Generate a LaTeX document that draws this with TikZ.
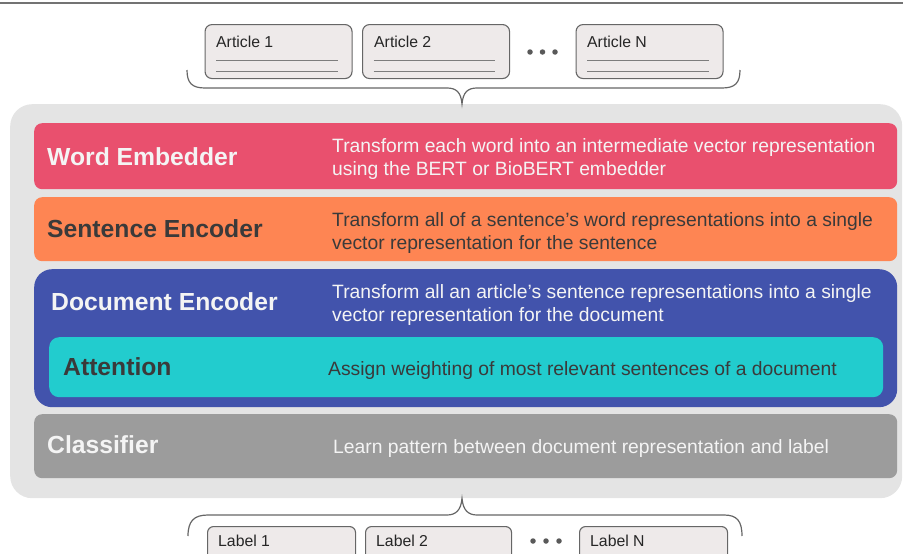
\documentclass[tikz,border=0pt]{standalone}
\usepackage{fontspec}
\setmainfont{Liberation Sans}
\usetikzlibrary{calc}
\definecolor{bgGray}{HTML}{E4E4E4}
\definecolor{wordRed}{HTML}{E9506E}
\definecolor{sentOrange}{HTML}{FE8553}
\definecolor{docBlue}{HTML}{4253AC}
\definecolor{attCyan}{HTML}{22CCCE}
\definecolor{clsGray}{HTML}{9C9C9C}
\definecolor{boxFill}{HTML}{EEEAEA}
\definecolor{boxDraw}{HTML}{666666}
\definecolor{darkText}{HTML}{3A3A3A}
\definecolor{lightText}{HTML}{F4F4F4}
\begin{document}
\begin{tikzpicture}[x=1pt,y=-1pt,
  bar/.style={rectangle, rounded corners=8pt, inner sep=0pt, anchor=north west, draw=none},
  title/.style={font=\fontsize{24.7}{29}\selectfont\bfseries, inner sep=0pt, anchor=base west},
  desc/.style={font=\fontsize{19.3}{22.5}\selectfont, align=left, inner sep=0pt, anchor=base west},
  docbox/.style={rectangle, rounded corners=7pt, fill=boxFill, draw=boxDraw, line width=1.1pt, inner sep=0pt, anchor=north west},
  boxtext/.style={font=\fontsize{15.8}{18}\selectfont, text=black!85, inner sep=0pt, anchor=base west},
  rule/.style={draw=boxDraw!85, line width=0.8pt},
  brace/.style={draw=boxDraw, line width=1.2pt},
  dot/.style={circle, fill=black!65, minimum size=5.5pt, inner sep=0pt}]
\useasboundingbox (0,0) rectangle (903,554);
\clip (0,0) rectangle (903,554);

% top rule
\coordinate (tl) at (0,3);
\coordinate (tr) at (903,3);
\draw[draw=black!55, line width=1.2pt] (tl) -- (tr);

% articles
\node[docbox, minimum width=147pt, minimum height=54pt] (art1) at (204.5,24) {};
\node[docbox, minimum width=147pt, minimum height=54pt] (art2) at (362,24) {};
\node[docbox, minimum width=147pt, minimum height=54pt] (artN) at (575.5,24) {};
\node[boxtext] (art1t) at (216,47) {Article 1};
\node[boxtext] (art2t) at (374,47) {Article 2};
\node[boxtext] (artNt) at (587,47) {Article N};
\foreach \b in {art1,art2,artN}{
  \draw[rule] ($(\b.north west)+(11.5,36)$) -- ($(\b.north east)+(-15,36)$);
  \draw[rule] ($(\b.north west)+(11.5,47)$) -- ($(\b.north east)+(-15,47)$);
}
\node[dot] (ad1) at (530,52) {};
\node[dot] (ad2) at (542.5,52) {};
\node[dot] (ad3) at (555,52) {};

% big background
\node[rectangle, rounded corners=22pt, fill=bgGray, minimum width=892pt, minimum height=394pt, inner sep=0pt, anchor=north west] (bg) at (10,104) {};

% top brace
\draw[brace] (187,70) .. controls (187,83) and (192,88) .. (205,88) -- (447,88)
  .. controls (456,88) and (461,92) .. (bg.north -| 462,0)
  .. controls (463,92) and (468,88) .. (477,88) -- (722,88)
  .. controls (735,88) and (740,83) .. (740,70);

% bars
\node[bar, fill=wordRed, minimum width=863pt, minimum height=66pt] (word) at (34,123) {};
\node[bar, fill=sentOrange, minimum width=863pt, minimum height=64pt] (sent) at (34,197) {};
\node[bar, fill=docBlue, rounded corners=18pt, minimum width=863pt, minimum height=138pt] (doc) at (34,269) {};
\node[bar, fill=attCyan, rounded corners=10pt, minimum width=834pt, minimum height=60pt] (att) at (49,337) {};
\node[bar, fill=clsGray, minimum width=863pt, minimum height=64pt] (cls) at (34,414) {};

\node[title, text=lightText] (wordT) at (47,165) {Word Embedder};
\node[desc, text=lightText] (wordD) at (332,175.3) {Transform each word into an intermediate vector representation\\using the BERT or BioBERT embedder};

\node[title, text=darkText] (sentT) at (47,237.3) {Sentence Encoder};
\node[desc, text=darkText] (sentD) at (332,249) {Transform all of a sentence’s word representations into a single\\vector representation for the sentence};

\node[title, text=lightText] (docT) at (51,310) {Document Encoder};
\node[desc, text=lightText] (docD) at (332,321.3) {Transform all an article’s sentence representations into a single\\vector representation for the document};

\node[title, text=darkText] (attT) at (63,375) {Attention};
\node[desc, text=darkText] (attD) at (328,375) {Assign weighting of most relevant sentences of a document};

\node[title, text=lightText] (clsT) at (47,453) {Classifier};
\node[desc, text=lightText] (clsD) at (333,453) {Learn pattern between document representation and label};

% bottom brace
\draw[brace] (188,536) .. controls (188,521) and (194,515) .. (208,515) -- (447,515)
  .. controls (456,515) and (461,510) .. (bg.south -| 462,0)
  .. controls (463,510) and (468,515) .. (477,515) -- (724,515)
  .. controls (737,515) and (742,521) .. (742,536);

% labels
\node[docbox, rounded corners=6pt, minimum width=148pt, minimum height=34pt] (lab1) at (207,526) {};
\node[docbox, rounded corners=6pt, minimum width=146pt, minimum height=34pt] (lab2) at (365,526) {};
\node[docbox, rounded corners=6pt, minimum width=148pt, minimum height=34pt] (labN) at (579,526) {};
\node[boxtext] (lab1t) at (218,546) {Label 1};
\node[boxtext] (lab2t) at (376,546) {Label 2};
\node[boxtext] (labNt) at (590,546) {Label N};
\node[dot] (ld1) at (533,541) {};
\node[dot] (ld2) at (546,541) {};
\node[dot] (ld3) at (559,541) {};
\end{tikzpicture}
\end{document}
